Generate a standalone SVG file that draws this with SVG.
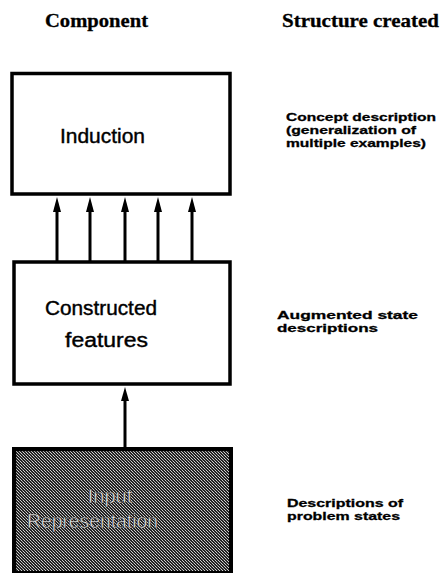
<svg xmlns="http://www.w3.org/2000/svg" width="440" height="573" viewBox="0 0 440 573">
<style>
.hdr{font-family:"Liberation Serif","DejaVu Serif",serif;font-weight:bold;font-size:19px;fill:#000;stroke:#000;stroke-width:0.3}
.box{fill:#fff;stroke:#000;stroke-width:3.5}
.lbl{font-family:"Liberation Sans",Arial,sans-serif;font-size:20px;fill:#000;stroke:#000;stroke-width:0.4}
.note{font-family:"Liberation Sans",Arial,sans-serif;font-weight:bold;font-size:11.5px;fill:#000;stroke:#000;stroke-width:0.3}
.conn line{stroke:#000;stroke-width:3}
.inlbl{font-family:"Liberation Sans",Arial,sans-serif;font-size:20px;fill:#eeeeee;stroke:#111;stroke-width:0.5}
</style>
<defs>
<pattern id="hatch" width="3" height="3" patternUnits="userSpaceOnUse">
<rect width="3" height="3" fill="#222"/>
<rect x="0" y="0" width="1" height="1" fill="#d0d0d0"/>
<rect x="1" y="1" width="1" height="1" fill="#a8a8a8"/>
<rect x="2" y="2" width="1" height="1" fill="#d0d0d0"/>
</pattern>
</defs>
<rect width="440" height="573" fill="#fff"/>
<g id="headers">
<text class="hdr" x="45" y="27" textLength="103" lengthAdjust="spacingAndGlyphs">Component</text>
<text class="hdr" x="282" y="27" textLength="157" lengthAdjust="spacingAndGlyphs">Structure created</text>
</g>
<g id="induction">
<rect class="box" x="12" y="73.5" width="218" height="120.5"/>
<text class="lbl" x="60" y="143" textLength="85" lengthAdjust="spacingAndGlyphs">Induction</text>
</g>
<g id="constructed">
<rect class="box" x="14" y="262" width="216" height="122"/>
<text class="lbl" x="45" y="315" textLength="112" lengthAdjust="spacingAndGlyphs">Constructed</text>
<text class="lbl" x="65" y="347" textLength="83" lengthAdjust="spacingAndGlyphs">features</text>
</g>
<g id="input">
<rect x="14" y="449" width="217" height="124" fill="url(#hatch)" stroke="#000" stroke-width="4"/>
<text class="inlbl" x="110" y="503" text-anchor="middle">Input</text>
<text class="inlbl" x="27" y="528" textLength="131" lengthAdjust="spacingAndGlyphs">Representation</text>
</g>
<g id="notes">
<text class="note" x="286" y="121" textLength="150" lengthAdjust="spacingAndGlyphs">Concept description</text>
<text class="note" x="286" y="134" textLength="130" lengthAdjust="spacingAndGlyphs">(generalization of</text>
<text class="note" x="286" y="147" textLength="140" lengthAdjust="spacingAndGlyphs">multiple examples)</text>
<text class="note" x="277" y="319" textLength="141" lengthAdjust="spacingAndGlyphs">Augmented state</text>
<text class="note" x="277" y="332" textLength="101" lengthAdjust="spacingAndGlyphs">descriptions</text>
<text class="note" x="287" y="507" textLength="116" lengthAdjust="spacingAndGlyphs">Descriptions of</text>
<text class="note" x="287" y="520" textLength="113" lengthAdjust="spacingAndGlyphs">problem states</text>
</g>
<g id="connectors" class="conn">
<line x1="57" y1="261" x2="57" y2="211"/>
<path d="M53,212 L57,197 L61,212 Z" fill="#000"/>
<line x1="90" y1="261" x2="90" y2="211"/>
<path d="M86,212 L90,197 L94,212 Z" fill="#000"/>
<line x1="125" y1="261" x2="125" y2="211"/>
<path d="M121,212 L125,197 L129,212 Z" fill="#000"/>
<line x1="158" y1="261" x2="158" y2="211"/>
<path d="M154,212 L158,197 L162,212 Z" fill="#000"/>
<line x1="192" y1="261" x2="192" y2="211"/>
<path d="M188,212 L192,197 L196,212 Z" fill="#000"/>
<line x1="125" y1="448" x2="125" y2="400"/>
<path d="M121,401 L125,387 L129,401 Z" fill="#000"/>
</g>
</svg>
